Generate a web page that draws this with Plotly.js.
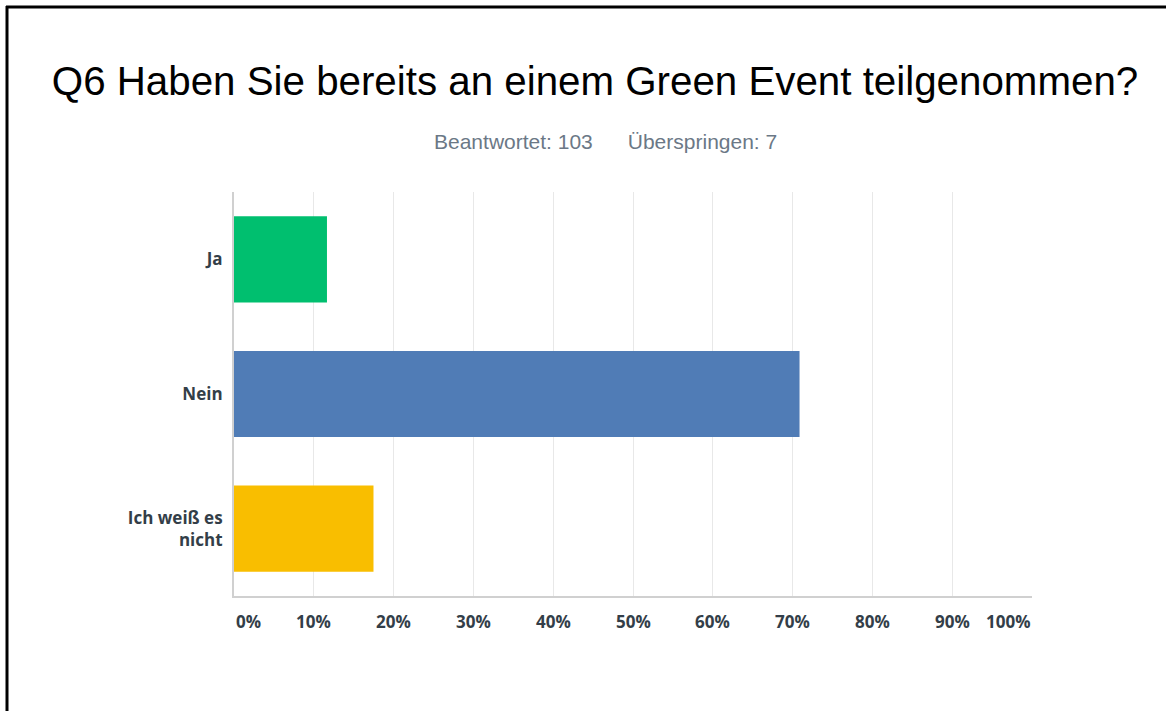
<!DOCTYPE html>
<html>
<head>
<meta charset="utf-8">
<script src="https://cdn.plot.ly/plotly-3.0.1.min.js"></script>
<style>html,body{margin:0;padding:0;background:#fff;}#chart{width:1166px;height:711px;}</style>
</head>
<body>
<div id="chart"></div>
<script>
const categories = ["Ja", "Nein", "Ich weiß es<br>nicht"];
const percents = [11.65, 70.87, 17.48];
const barColors = ["#00bf6f", "#507cb6", "#f9be00"];
const tickValues = [0, 10, 20, 30, 40, 50, 60, 70, 80, 90, 100];
const tickLabels = ["0%", "10%", "20%", "30%", "40%", "50%", "60%", "70%", "80%", "90%", "100%"];
const titleText = "Q6 Haben Sie bereits an einem Green Event teilgenommen?";
const subtitleText = "Beantwortet: 103&nbsp;&nbsp;&nbsp;&nbsp;&nbsp;&nbsp;Überspringen: 7";

const W = 1166, H = 711;
const L = 234, R = 1032, T = 192, B = 596;
const px2x = p => (p - L) / (R - L);
const px2y = p => (B - p) / (B - T);

const tickFont = {family: "'Open Sans', Roboto, Arial, sans-serif", size: 17, color: "#333e48", weight: 700};

const annotations = tickValues.map((v, i) => ({
  x: v, xref: "x", y: px2y(621), yref: "paper",
  text: tickLabels[i], showarrow: false,
  xanchor: i === 0 ? "left" : (i === tickValues.length - 1 ? "right" : "center"),
  yanchor: "middle",
  font: tickFont
}));
annotations.push({
  x: px2x(605), xref: "paper", y: px2y(142), yref: "paper",
  text: subtitleText, showarrow: false, xanchor: "center", yanchor: "middle",
  font: {family: "Liberation Sans, Arial, sans-serif", size: 21, color: "#6b7886"}
});

const data = [{
  type: "bar", orientation: "h",
  y: categories, x: percents,
  marker: {color: barColors, line: {width: 0}},
  hoverinfo: "none"
}];

const layout = {
  width: W, height: H,
  margin: {l: L, r: W - R, t: T, b: H - B, pad: 0},
  paper_bgcolor: "#ffffff", plot_bgcolor: "#ffffff",
  bargap: 0.36,
  showlegend: false,
  title: {
    text: titleText, xref: "container", yref: "container",
    x: 595 / W, y: 1 - 81 / H, xanchor: "center", yanchor: "middle",
    font: {family: "Liberation Sans, Arial, sans-serif", size: 40.3, color: "#000000"}
  },
  xaxis: {
    range: [0, 100], tickvals: tickValues, showticklabels: false,
    showgrid: true, gridcolor: "#e8e8e8", gridwidth: 1,
    zeroline: false, showline: true, linecolor: "#d0d0d0", linewidth: 2,
    fixedrange: true
  },
  yaxis: {
    autorange: "reversed", type: "category",
    showgrid: false, zeroline: false, showline: true, linecolor: "#d0d0d0", linewidth: 2,
    ticks: "", ticklabelstandoff: 6, tickfont: tickFont,
    fixedrange: true
  },
  annotations: annotations,
  shapes: [
    {type: "line", xref: "paper", yref: "paper", x0: px2x(7), x1: px2x(7), y0: px2y(6), y1: px2y(720), line: {color: "#000", width: 3}},
    {type: "line", xref: "paper", yref: "paper", x0: px2x(6), x1: px2x(1170), y0: px2y(7), y1: px2y(7), line: {color: "#000", width: 3}}
  ]
};

Plotly.newPlot("chart", data, layout, {displayModeBar: false, staticPlot: true});
</script>
</body>
</html>
